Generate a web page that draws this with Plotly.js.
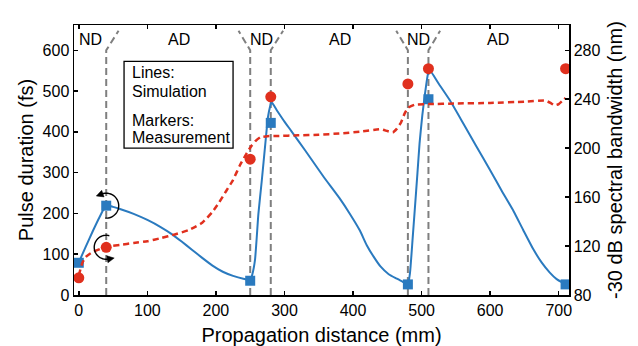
<!DOCTYPE html>
<html>
<head>
<meta charset="utf-8">
<script src="https://cdn.plot.ly/plotly-3.0.1.min.js"></script>
<style>
html,body{margin:0;padding:0;background:#fff;}
#chart{width:638px;height:346px;}
</style>
</head>
<body>
<div id="chart"></div>
<script>
// ---- data ----
// Simulated pulse duration (fs), left axis
const simPulseX = [0,10,20,30,40,50,60,80,100,120,135,150,165,180,195,210,225,240,250,253,257,262,267,272,276,279,281,290,300,310,330,357,380,395,410,420,430,440,452,464,472,480,483,487,490,494,497,501,505,508,511,525,541,560,580,600,617,634,648,663,675,687,697,705,710];
const simPulseY = [80,118,155,190,220,216,211,199,184,166,150,131,111,91,72,57,47,40,37,50,86,200,282,370,437,462,473,450,425,402,355,290,238,200,158,122,94,70,51,40,33,27,53,140,208,300,371,440,494,530,553,518,478,423,364,306,255,206,160,112,80,55,39,31,27];
// Simulated -30 dB bandwidth (nm), right axis
const simBwX = [0,5,10,20,40,60,80,100,120,140,160,180,195,205,215,225,235,245,252,258,265,275,290,320,350,380,410,440,450,458,464,470,475,480,490,510,550,600,650,680,688,694,700,705,710];
const simBwY = [96,106,111,115,119.5,121,122.5,124,126.5,129.5,133,139,148,156,165,174,186,196,202,206,209,209.8,210,210.5,211,212,213.5,215.5,214,213,216,221,228,233,235.5,236,236.5,237,238,239,237,235,236,238.5,241];
// Measurements
const measX = [0,40,250,280,480,510,710];
const measPulse = [79,219,35,422,26,480,26];
const measBw = [94,119,191,242,252.5,265,265];
// Section boundaries and labels
const boundaryX = [40,250,280,480,510];
const boundaryLean = [18,-17,18,-17,17];
const sectionLabels = ['ND','AD','ND','AD','ND','AD'];
const sectionLabelX = [17,146,266,381,495,612];
// Axis ticks
const xTicks = [0,100,200,300,400,500,600,700];
const yTicks = [0,100,200,300,400,500,600];
const y2Ticks = [80,120,160,200,240,280];

const BLUE = '#2a7abf';
const RED = '#e0301e';
const GRAY = '#7f7f7f';
const FONT = 'Liberation Sans, Arial, sans-serif';

const traces = [
  {x: simPulseX, y: simPulseY, type: 'scatter', mode: 'lines',
   line: {color: BLUE, width: 2, shape: 'spline', smoothing: 0.5}, yaxis: 'y', hoverinfo: 'skip'},
  {x: simBwX, y: simBwY, type: 'scatter', mode: 'lines',
   line: {color: RED, width: 2.5, dash: '6px,4px', shape: 'spline', smoothing: 0.4}, yaxis: 'y2', hoverinfo: 'skip'},
  {x: measX, y: measPulse, type: 'scatter', mode: 'markers',
   marker: {symbol: 'square', size: 10, color: BLUE}, yaxis: 'y', cliponaxis: true},
  {x: measX, y: measBw, type: 'scatter', mode: 'markers',
   marker: {symbol: 'circle', size: 11, color: RED}, yaxis: 'y2', cliponaxis: true}
];

const shapes = [];
boundaryX.forEach((bx, i) => {
  shapes.push({type: 'path', xref: 'x', yref: 'y', layer: 'below',
    path: 'M' + bx + ',0 L' + bx + ',600 L' + (bx + boundaryLean[i]) + ',648',
    line: {color: GRAY, width: 2, dash: '7px,4px'}});
});
// legend-like text box
shapes.push({type: 'rect', xref: 'x', yref: 'y', x0: 66, x1: 225, y0: 360, y1: 573,
  line: {color: 'black', width: 1.3}, fillcolor: 'rgba(0,0,0,0)'});

// circular arrows (pixel sized, anchored to the measurement at 40 mm)
function arcShapes(xa, ya, yref, r, a0, a1) {
  const n = 30;
  let p = '';
  for (let k = 0; k <= n; k++) {
    const a = (a0 + (a1 - a0) * k / n) * Math.PI / 180;
    p += (k === 0 ? 'M' : ' L') + (r * Math.cos(a)).toFixed(2) + ',' + (r * Math.sin(a)).toFixed(2);
  }
  const ae = a1 * Math.PI / 180;
  const sgn = a1 > a0 ? 1 : -1;
  const ex = r * Math.cos(ae), ey = r * Math.sin(ae);
  const dx = -Math.sin(ae) * sgn, dy = Math.cos(ae) * sgn;
  const nx = -dy, ny = dx;
  const tip = [ex + dx * 6, ey + dy * 6];
  const b1 = [ex - dx * 1 + nx * 3.5, ey - dy * 1 + ny * 3.5];
  const b2 = [ex - dx * 1 - nx * 3.5, ey - dy * 1 - ny * 3.5];
  const head = 'M' + tip[0].toFixed(2) + ',' + tip[1].toFixed(2) +
    ' L' + b1[0].toFixed(2) + ',' + b1[1].toFixed(2) +
    ' L' + b2[0].toFixed(2) + ',' + b2[1].toFixed(2) + ' Z';
  return [
    {type: 'path', xref: 'x', yref: yref, xsizemode: 'pixel', ysizemode: 'pixel',
     xanchor: xa, yanchor: ya, path: p, line: {color: 'black', width: 1.4}},
    {type: 'path', xref: 'x', yref: yref, xsizemode: 'pixel', ysizemode: 'pixel',
     xanchor: xa, yanchor: ya, path: head, line: {color: 'black', width: 0.5}, fillcolor: 'black'}
  ];
}
shapes.push(...arcShapes(measX[1], measPulse[1], 'y', 12.5, -95, 110));
shapes.push(...arcShapes(measX[1], measBw[1], 'y2', 12, 75, 280));

const annotations = [];
sectionLabels.forEach((t, i) => {
  annotations.push({x: sectionLabelX[i], y: 627, xref: 'x', yref: 'y', text: t,
    showarrow: false, xanchor: 'center', yanchor: 'middle',
    font: {family: FONT, size: 16, color: 'black'}});
});
const boxLines = ['Lines:', 'Simulation', 'Markers:', 'Measurement'];
const boxLineY = [546, 500, 429, 387];
boxLines.forEach((t, i) => {
  annotations.push({x: 75, y: boxLineY[i], xref: 'x', yref: 'y', text: t,
    showarrow: false, xanchor: 'left', yanchor: 'middle',
    font: {family: FONT, size: 16, color: 'black'}});
});

const axisCommon = {
  showline: true, linecolor: 'black', linewidth: 1.5,
  ticks: 'inside', ticklen: 4, tickwidth: 1.5, tickcolor: 'black',
  showgrid: false, zeroline: false,
  tickfont: {family: FONT, size: 16, color: 'black'}
};

const layout = {
  width: 638, height: 346,
  margin: {l: 74, r: 69, t: 25, b: 51, pad: 0},
  paper_bgcolor: 'white', plot_bgcolor: 'white',
  showlegend: false,
  font: {family: FONT, color: 'black'},
  xaxis: Object.assign({}, axisCommon, {
    range: [-7, 715], tickvals: xTicks, mirror: 'ticks',
    title: {text: 'Propagation distance (mm)', font: {family: FONT, size: 20, color: 'black'}, standoff: 10}
  }),
  yaxis: Object.assign({}, axisCommon, {
    range: [0, 662], tickvals: yTicks, mirror: false,
    title: {text: 'Pulse duration (fs)', font: {family: FONT, size: 20, color: 'black'}, standoff: 3}
  }),
  yaxis2: Object.assign({}, axisCommon, {
    range: [80, 80 + 662 / 3], tickvals: y2Ticks, overlaying: 'y', side: 'right',
    title: {text: '-30 dB spectral bandwidth (nm)', font: {family: FONT, size: 20, color: 'black'}, standoff: 8}
  }),
  shapes: shapes,
  annotations: annotations
};

Plotly.newPlot('chart', traces, layout, {staticPlot: true, displayModeBar: false});
</script>
</body>
</html>
